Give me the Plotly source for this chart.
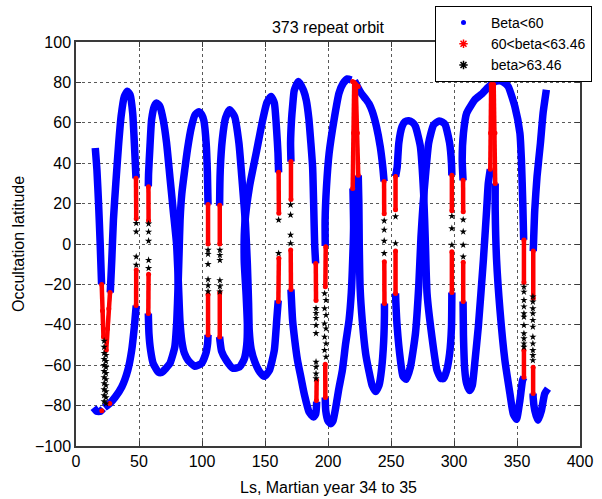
import plotly.graph_objects as go

# ---- data (Ls, latitude) ----
# blue (Beta<60) strokes, None separates strokes
blue_x = [15.3, 16.6, 17.9, 19.2, 20.3, None,
          13.9, 16.5, 19.5, 21.5, None,
          22.5, 27.1, 31.1, 36.3, 41.1, 44.2, 46.3, 47.3, 47.8, None,
          47.6, 47.2, 46.3, 45.0, 42.9, 40.8, 38.4, 35.8, 33.7, 31.6, 29.7, 28.4, 27.2, None,
          57.4, 57.6, 58.7, 60.0, 62.1, 64.0, 66.6, 69.2, 71.9, 74.5, 77.1, 79.8, 81.3, 82.5, 84.0, 86.0, 89.0, 94.2, 99.5, 103.0, 104.5, 104.8, None,
          57.4, 57.9, 59.2, 61.3, 65.3, 68.0, 71.0, 74.5, 78.4, 80.0, 81.0, 81.8, 82.6, 84.0, 86.3, 88.5, 91.6, 94.5, 97.5, 99.8, 101.5, 103.3, 104.3, 104.8, None,
          114.0, 114.3, 115.5, 119.3, 124.5, 129.8, 133.5, 135.5, 136.0, 135.0, 133.5, 134.0, 137.7, 143.0, 148.2, 151.5, 154.8, 157.4, 159.2, 160.3, 160.8, None,
          114.0, 114.0, 114.5, 116.1, 118.7, 121.9, 125.8, 129.3, 132.0, 134.5, 136.0, 137.0, 137.5, 139.0, 142.0, 146.0, 149.5, 153.5, 157.4, 159.3, 160.5, None,
          170.6, 170.3, 171.1, 171.9, 173.2, 176.5, 180.6, 182.8, 184.8, 186.4, 187.8, 188.6, 189.4, 190.2, None,
          170.6, 171.9, 173.5, 175.8, 178.5, 181.1, 185.0, 188.5, 190.3, 191.0, None,
          197.8, 197.7, 198.8, 200.9, 204.8, 208.8, 212.0, 215.3, 218.5, None,
          197.8, 198.2, 200.0, 202.2, 204.0, 206.2, 208.5, 211.4, 214.0, 216.7, 218.5, 219.3, 220.3, 219.8, None,
          221.0, 223.3, 226.5, 229.9, 232.5, 235.1, 238.5, 241.5, 243.5, 244.5, None,
          244.8, 244.8, 244.2, 242.5, 240.5, 237.8, 235.0, 232.5, 229.9, 227.2, 225.5, 224.8, 224.5, 224.0, None,
          253.6, 254.9, 256.2, 258.8, 261.0, 264.1, 267.0, 269.4, 273.3, 275.9, 277.3, 278.6, 282.5, 286.5, 289.5, 291.7, 294.0, 296.5, 298.0, 298.3, None,
          253.6, 253.8, 254.9, 257.5, 259.5, 262.0, 265.4, 269.4, 272.0, 273.8, 275.5, 277.3, 279.9, 283.8, 287.8, 291.0, 293.1, 296.5, 298.0, 298.3, None,
          307.2, 306.5, 307.5, 310.1, 316.7, 322.0, 327.0, 330.5, 333.5, 336.5, 339.5, 343.0, 348.3, 352.3, 353.5, 354.6, 355.3, None,
          355.5, 354.4, 352.3, 349.6, 347.0, 344.4, 340.4, 336.5, 333.8, 332.7, 332.7, None,
          328.8, 327.2, 325.9, 323.3, 319.3, 316.7, 314.5, 312.5, 310.0, 308.5, 307.5, 307.2, None,
          373.3, 370.7, 368.6, 365.9, 364.1, 362.9, None,
          362.8, 362.8, 364.1, 366.7, 369.4, 372.0, 374.6]
blue_y = [47.5, 36.7, 20.2, 0, -20, None,
          -81, -82.8, -82.8, -81.5, None,
          -81, -78.7, -75.8, -70.8, -62.5, -52.6, -41, -34, -30.5, None,
          32.5, 38, 50, 64.8, 73.9, 75.6, 73.1, 63.2, 48.3, 30.1, 11.9, -8, -24, None,
          28.5, 35, 48.3, 61.5, 68.1, 69.8, 68.1, 61.5, 50, 33.4, 16.9, 0, -20, -38, -48, -54, -57.6, -60.5, -59.2, -54.3, -49, -45, None,
          -34.4, -44.3, -52.6, -59.2, -63.4, -63.6, -61.8, -59.2, -51, -38, -21, -4.6, 12, 25, 36.7, 47, 58, 64, 65.5, 64, 61, 50, 35, 19.5, None,
          -46, -48, -53, -57.6, -61.5, -60.9, -57, -50, -40, -25, -8, 10, 28.4, 45, 61.5, 70, 73, 69.8, 56.6, 45, 35.5, None,
          19, 20.2, 36.7, 51.6, 62.4, 66.5, 63.2, 50, 30, 10, -10, -30, -43, -52, -58.5, -63.5, -65.5, -62.5, -52.6, -37.7, -28, None,
          40.8, 50, 62, 68.1, 76, 80.5, 76, 71, 62, 50, 38, 20, 0, -9.6, None,
          -22.5, -37.7, -47, -57.6, -66, -74.1, -83.2, -85.7, -84, -78, None,
          -1, 11.9, 28.4, 45, 61.5, 74.8, 79.5, 81.7, 81.2, None,
          -76, -82.4, -87.5, -89, -87.5, -80.7, -72, -62.5, -49.3, -37.7, -24, -12.9, 8, 27.5, None,
          80.8, 78, 74.5, 71.8, 69.5, 65.7, 58, 48, 38, 31, None,
          -29.4, -35, -48, -62, -70, -73, -70, -63, -54.3, -38, -22, 0, 20, 34, None,
          33.4, 38, 50, 58.2, 60.5, 61, 60.2, 58.2, 48.3, 25.1, 0.3, -24.5, -46, -62.5, -66.5, -66.6, -63, -54.3, -41, -24, None,
          -24.5, -28, -41, -57.6, -65.5, -67, -60.9, -44.3, -21.2, 3.6, 20, 33.4, 50, 59, 60.8, 60.3, 59, 50, 40, 34, None,
          31.5, 41.7, 54.9, 64.9, 71.5, 74.2, 77.5, 79.6, 80.6, 80.8, 80, 78, 68.1, 54.9, 41.7, 20, 2, None,
          -66, -67.5, -77.4, -86.8, -84, -74.1, -57.6, -32.8, -8, 16.9, 30, None,
          37, 30, 16.9, -8, -41, -57.6, -70, -72.5, -69, -62, -45, -28.5, None,
          76.4, 64.8, 50, 33.4, 16.9, -3.5, None,
          -74, -75.8, -82.4, -87.3, -82.4, -74.1, -71.6]

# red (60<beta<63.46) columns
red_x = [20.4, 21.0, 21.8, None, 27.0, 26.0, 25.0, 24.0, None,
         47.6, 47.8, None, 47.8, 47.7, None,
         57.5, 57.6, None, 57.6, 57.4, None,
         104.8, 104.8, None, 104.8, 104.8, None,
         114.1, 114.1, None, 114.1, 114.1, None,
         160.8, 161.0, None, 161.0, 160.6, None,
         170.6, 170.6, None, 170.4, 170.6, None,
         190.3, 190.5, None, 191.0, 190.8, None,
         198.2, 197.9, None, 197.8, 197.9, None,
         219.6, 220.3, 220.8, None, 224.0, 223.3, 222.0, None, 219.5, 224.0, None,
         244.5, 244.6, None, 244.7, 244.8, None,
         253.6, 253.6, None, 253.6, 253.6, None,
         298.3, 298.3, None, 298.3, 298.3, None,
         307.2, 307.3, None, 307.3, 307.3, None,
         329.5, 329.0, 328.8, None, 331.5, 332.5, 332.7, None,
         355.5, 355.5, None, 355.5, 355.5, None,
         362.9, 362.9, None, 362.8, 362.8, None,
         20.5, None, 26.8]
red_y = [-20, -33, -46, None, -24, -32, -42, -52.6, None,
         32.6, 12.5, None, -12.9, -30.5, None,
         28.4, 11.5, None, -15, -34.4, None,
         19.5, 0, None, -25, -45, None,
         19.2, 0, None, -24, -46, None,
         35.5, 15.2, None, -7, -28.5, None,
         40.8, 22, None, -3, -22.5, None,
         -9.6, -28, None, -67.5, -77.5, None,
         -1.3, -21.2, None, -59.5, -76, None,
         27.5, 55, 80, None, 34, 55, 79, None, 80.5, 78, None,
         31, 15, None, -8.8, -29.4, None,
         33.4, 16.9, None, -3.5, -24.5, None,
         34, 16.5, None, -3.8, -24, None,
         31.5, 16, None, -9, -28.5, None,
         79, 55, 37, None, 79, 55, 30, None,
         2, -19, None, -52.6, -66, None,
         -3.5, -27, None, -61, -74, None,
         -82.5, None, -79]

# black (beta>63.46) points
black_x = [22.3, 22.3, 22.3, 22.3, 22.3, 22.3, 22.3, 22.3, 22.3, 22.3, 22.3,
           23.8, 23.8, 23.8, 23.8, 23.8, 23.8, 23.8, 23.8, 23.8,
           47.8, 47.8, 47.8, 47.8,
           57.6, 57.6, 57.6, 57.6, 57.6,
           104.8, 104.8, 104.8, 104.8, 104.8, 104.8,
           114.2, 114.2, 114.2, 114.2, 114.2, 114.2,
           160.8, 160.8,
           170.3, 170.3, 170.3, 170.3,
           190.5, 190.5, 190.5, 190.5, 190.5, 190.5, 190.5, 190.5, 190.5,
           197.3, 198.4, 197.3, 198.4, 197.3, 198.4, 197.3, 198.4, 197.3, 198.4,
           244.6, 244.6, 244.6, 244.6,
           253.6, 253.6,
           298.3, 298.3, 298.3,
           307.3, 307.3, 307.3, 307.3,
           355.5, 355.5, 355.5, 355.5, 355.5, 355.5, 355.5, 355.5, 355.5, 355.5, 355.5,
           362.6, 362.6, 362.6, 362.6, 362.6, 362.6, 362.6, 362.6, 362.6, 362.6, 362.6]
black_y = [-48, -51, -54, -57, -60, -63, -66, -69, -72, -75, -78,
           -55, -58, -61, -64, -67, -70, -73, -76, -79,
           10.3, 6.1, -6.3, -10.4,
           10, 6, 1.5, -8, -12,
           -3, -5, -10, -17.5, -20.5, -23.5,
           -3, -5.5, -8, -18, -21, -23.6,
           11.9, -4.6,
           19.4, 14.4, 4.5, 0.3,
           -31.8, -34.2, -36.7, -40.2, -44.2, -58.4, -60.9, -64.2, -66.6,
           -24.5, -27.8, -31.9, -35.2, -39.4, -41.9, -46, -49.3, -52.6, -55.9,
           11.5, 7, 1.5, -4.6,
           13.6, 0.3,
           13.8, 7.7, -0.5,
           12, 6.1, -0.5, -6.3,
           -21.2, -23.7, -27.8, -31, -34.4, -36.1, -40.2, -44.3, -46.8, -49.3, -51,
           -26.1, -28.6, -31.9, -34.4, -37.7, -41, -46, -49.3, -52.6, -55.1, -57.6]

x_ticks = [0, 50, 100, 150, 200, 250, 300, 350, 400]
y_ticks = [-100, -80, -60, -40, -20, 0, 20, 40, 60, 80, 100]
legend_names = ["Beta<60", "60<beta<63.46", "beta>63.46"]

BLUE = "rgb(0,0,255)"
RED = "rgb(255,0,0)"
BLACK = "rgb(0,0,0)"

fig = go.Figure()
fig.add_trace(go.Scatter(x=blue_x, y=blue_y, mode="lines", showlegend=False,
                         line=dict(color=BLUE, width=7.5, shape="spline", smoothing=0.5),
                         hoverinfo="skip"))
fig.add_trace(go.Scatter(x=red_x, y=red_y, mode="lines+markers", showlegend=False,
                         line=dict(color=RED, width=4.5),
                         marker=dict(color=RED, size=5), hoverinfo="skip"))
fig.add_trace(go.Scatter(x=black_x, y=black_y, mode="markers", showlegend=False,
                         marker=dict(color=BLACK, size=5.5, symbol="star"),
                         hoverinfo="skip"))
# legend entries
fig.add_trace(go.Scatter(x=[None], y=[None], mode="markers", name=legend_names[0],
                         marker=dict(color=BLUE, size=5, symbol="circle")))
fig.add_trace(go.Scatter(x=[None], y=[None], mode="markers", name=legend_names[1],
                         marker=dict(color=RED, size=7, symbol="asterisk-open",
                                     line=dict(color=RED, width=1.5))))
fig.add_trace(go.Scatter(x=[None], y=[None], mode="markers", name=legend_names[2],
                         marker=dict(color=BLACK, size=7, symbol="asterisk-open",
                                     line=dict(color=BLACK, width=1.5))))

axis_common = dict(showline=True, linecolor="#3a3a3a", linewidth=1.5, mirror="allticks",
                   ticks="inside", ticklen=5, tickcolor="#3a3a3a",
                   showgrid=True, gridcolor="rgba(0,0,0,0.65)", gridwidth=1, griddash="dot",
                   zeroline=False, tickfont=dict(size=16, color="black"), automargin=False)

fig.update_xaxes(range=[0, 400], tickvals=x_ticks, **axis_common)
fig.update_yaxes(range=[-100, 100], tickvals=y_ticks, **axis_common)

fig.update_layout(
    width=602, height=499,
    margin=dict(l=76, r=22, t=42, b=53, autoexpand=False),
    paper_bgcolor="white", plot_bgcolor="white",
    font=dict(family="Arial, 'Liberation Sans', sans-serif", size=16, color="black"),
    title=dict(text="373 repeat orbit", x=0.5, xref="paper", xanchor="center",
               y=1 - 27 / 499, yref="container", yanchor="middle",
               font=dict(size=16, color="black")),
    legend=dict(x=(435 - 76) / 504, y=(446 - 6) / 404, xanchor="left", yanchor="top",
                bgcolor="white", bordercolor="black", borderwidth=1,
                font=dict(size=14, color="black"), tracegroupgap=0, itemwidth=45),
    annotations=[
        dict(text="Ls, Martian year 34 to 35", x=0.5, y=(446 - 487) / 404, xref="paper", yref="paper",
             xanchor="center", yanchor="middle", showarrow=False, font=dict(size=16)),
        dict(text="Occultation latitude", x=(18 - 76) / 504, y=0.5, xref="paper", yref="paper",
             xanchor="center", yanchor="middle", textangle=-90, showarrow=False,
             font=dict(size=16)),
    ],
    shapes=[dict(type="line", xref="x", yref="y", x0=323, x1=399, y0=-100.6, y1=-100.6,
                 line=dict(color="#444", width=1.5))],
)

fig.write_html("out.html")
